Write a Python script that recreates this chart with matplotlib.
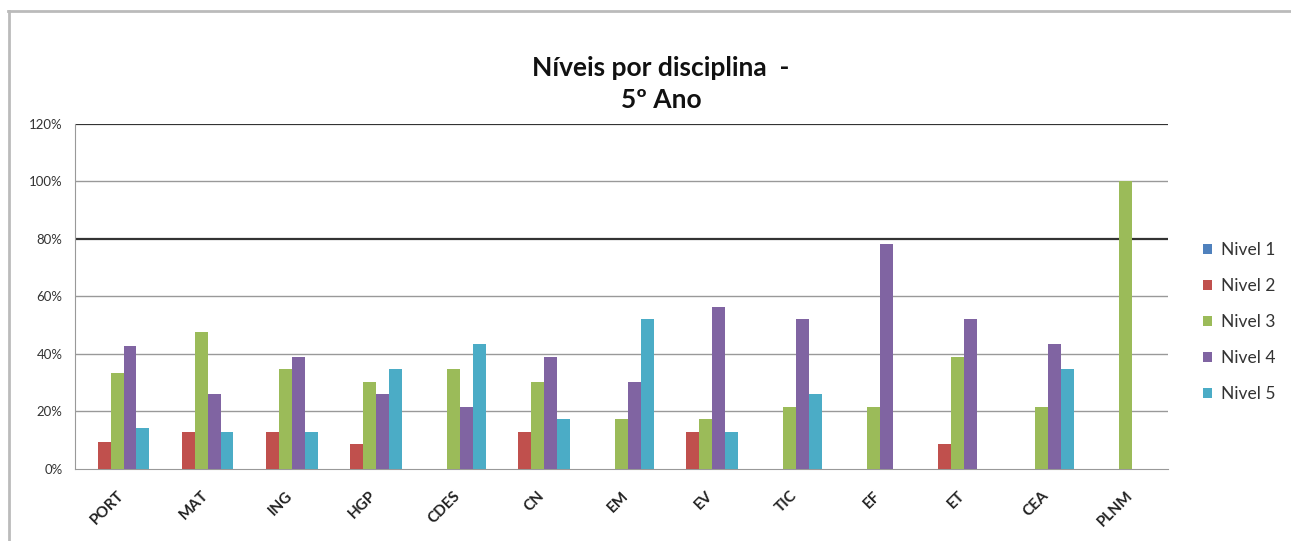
import numpy as np
import matplotlib
matplotlib.use("Agg")
import matplotlib.pyplot as plt
from matplotlib.lines import Line2D

# Data (percent of students per level)
disciplinas = ["PORT", "MAT", "ING", "HGP", "CDES", "CN", "EM", "EV",
               "TIC", "EF", "ET", "CEA", "PLNM"]
nivel_1 = [0, 0, 0, 0, 0, 0, 0, 0, 0, 0, 0, 0, 0]
nivel_2 = [9.5, 13.0, 13.0, 8.7, 0, 13.0, 0, 13.0, 0, 0, 8.7, 0, 0]
nivel_3 = [33.3, 47.8, 34.8, 30.4, 34.8, 30.4, 17.4, 17.4, 21.7, 21.7, 39.1, 21.7, 100.0]
nivel_4 = [42.9, 26.1, 39.1, 26.1, 21.7, 39.1, 30.4, 56.5, 52.2, 78.3, 52.2, 43.5, 0]
nivel_5 = [14.3, 13.0, 13.0, 34.8, 43.5, 17.4, 52.2, 13.0, 26.1, 0, 0, 34.8, 0]
series_names = ["Nivel 1", "Nivel 2", "Nivel 3", "Nivel 4", "Nivel 5"]
y_ticks = [0, 20, 40, 60, 80, 100, 120]

colors = ["#4F81BD", "#C0504D", "#9BBB59", "#8064A2", "#4BACC6"]
series = [nivel_1, nivel_2, nivel_3, nivel_4, nivel_5]

plt.rcParams['font.family'] = ['Lato', 'DejaVu Sans']

fig = plt.figure(figsize=(12.91, 5.41), dpi=100)
ax = fig.add_axes([0.0581, 0.1331, 0.8466, 0.6377])

x = np.arange(len(disciplinas))
width = 1 / 6.5
for i, (vals, col) in enumerate(zip(series, colors)):
    ax.bar(x + (i - 2) * width, vals, width, color=col, label=series_names[i], zorder=3)

ax.set_xlim(-0.5, len(disciplinas) - 0.5)
ax.set_ylim(0, 120)
ax.set_yticks(y_ticks)
ax.set_yticklabels([f"{v}%" for v in y_ticks], fontsize=9.5, color="#333333")
ax.tick_params(axis='y', length=0, pad=9)
ax.set_xticks(x)
ax.set_xticklabels(disciplinas, rotation=45, ha='right', rotation_mode='anchor',
                   fontsize=11, fontweight='bold', color="#222222")
ax.tick_params(axis='x', length=0, pad=14)

# gridlines
for v in y_ticks[1:]:
    dark = v in (80, 120)
    ax.axhline(v, color="#333333" if dark else "#999999", lw=1.6 if dark else 1.0, zorder=1)

for s in ["top", "right"]:
    ax.spines[s].set_visible(False)
ax.spines["left"].set_color("#999999")
ax.spines["bottom"].set_color("#999999")

fig.text(0.512, 0.874, "Níveis por disciplina  -", ha='center', va='center',
         fontsize=19, fontweight='bold', color="#111111")
fig.text(0.512, 0.815, "5º Ano", ha='center', va='center',
         fontsize=19, fontweight='bold', color="#111111")

ax.legend(loc='center left', bbox_to_anchor=(0.925, 0.405), bbox_transform=fig.transFigure,
          frameon=False, fontsize=12.5, labelspacing=1.15, handlelength=0.5,
          handleheight=0.5, handletextpad=0.55, borderpad=0, labelcolor="#333333")

# outer border (top and left)
fig.add_artist(Line2D([0.006, 1.0], [0.980, 0.980], transform=fig.transFigure,
                      color="#bbbbbb", lw=2))
fig.add_artist(Line2D([0.007, 0.007], [0.0, 0.980], transform=fig.transFigure,
                      color="#bbbbbb", lw=2))

fig.savefig("out.png", dpi=100)
